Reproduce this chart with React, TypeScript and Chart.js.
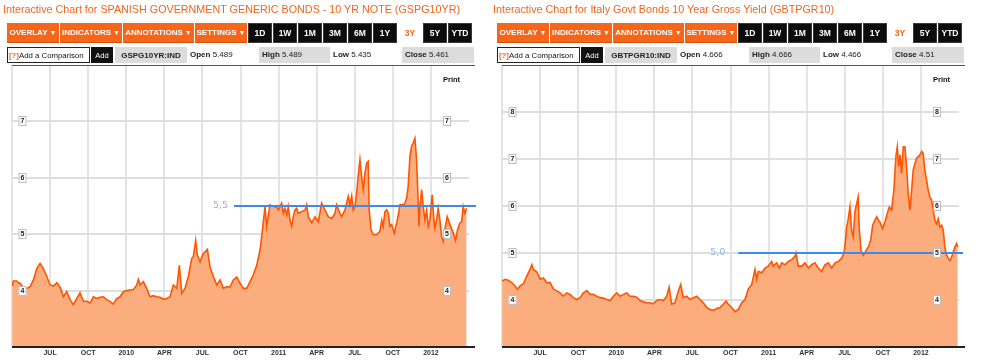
import React, { useEffect, useRef } from "react";
import { Chart, registerables } from "chart.js";
Chart.register(...registerables);

// x values: months since Jan 2009 (6 = Jul 2009, 12 = Jan 2010, 36 = Jan 2012)
const quarterMonths = [3, 6, 9, 12, 15, 18, 21, 24, 27, 30, 33, 36, 39];
const quarterLabels = ["", "JUL", "OCT", "2010", "APR", "JUL", "OCT", "2011", "APR", "JUL", "OCT", "2012", ""];

const spainMonths = [3.01,3.11,3.38,3.50,3.64,3.90,4.17,4.43,4.69,4.95,5.21,5.47,5.74,6.00,6.26,6.53,6.79,7.05,7.31,7.57,7.83,8.10,8.36,8.62,8.89,9.15,9.41,9.68,9.94,10.20,10.46,10.72,10.98,11.25,11.51,11.77,12.04,12.30,12.56,12.83,12.95,13.09,13.35,13.61,13.87,14.13,14.40,14.66,14.92,15.19,15.45,15.71,15.98,16.18,16.37,16.63,16.89,17.16,17.28,17.47,17.60,17.81,18.07,18.39,18.60,18.86,19.13,19.39,19.65,19.91,20.17,20.43,20.70,20.96,21.22,21.49,21.75,22.01,22.28,22.54,22.67,22.80,22.93,23.06,23.19,23.32,23.58,23.85,23.98,24.24,24.37,24.50,24.64,24.76,24.90,25.03,25.16,25.29,25.43,25.55,25.82,26.08,26.21,26.34,26.61,26.87,27.13,27.39,27.52,27.65,27.91,28.18,28.44,28.57,28.83,28.97,29.23,29.49,29.62,29.76,29.88,30.02,30.15,30.28,30.41,30.54,30.67,30.80,30.94,31.06,31.14,31.28,31.46,31.72,31.98,32.13,32.24,32.38,32.52,32.64,32.77,32.91,33.11,33.30,33.43,33.56,33.82,33.95,34.09,34.21,34.35,34.48,34.61,34.74,34.87,34.95,35.06,35.13,35.27,35.39,35.53,35.66,35.79,35.92,36.10,36.24,36.31,36.45,36.57,36.71,36.84,36.97,37.10,37.28,37.50,37.76,37.94,38.10,38.28,38.42,38.54,38.68,38.81];
const spainYields = [4.08,4.17,4.17,4.14,4.13,4.05,4.04,4.07,4.19,4.39,4.48,4.39,4.25,4.10,4.08,4.14,4.06,3.89,3.98,3.84,3.75,3.86,3.96,3.81,3.81,3.78,3.89,3.86,3.88,3.89,3.84,3.81,3.76,3.86,3.89,3.98,4.00,4.01,4.02,4.10,4.20,4.10,4.16,4.04,3.89,3.91,3.89,3.88,3.85,3.86,3.89,4.10,4.04,4.45,3.95,4.04,4.25,4.57,4.60,4.89,4.63,4.51,4.66,4.73,4.42,4.25,4.10,4.19,4.04,4.07,4.06,4.19,4.24,4.13,4.04,4.04,4.16,4.28,4.45,4.72,4.96,5.22,5.49,5.14,5.33,5.52,5.49,5.48,5.43,5.55,5.37,5.46,5.34,5.49,5.25,5.14,5.31,5.43,5.46,5.37,5.40,5.43,5.52,5.31,5.20,5.31,5.22,5.55,5.49,5.43,5.31,5.28,5.37,5.52,5.37,5.31,5.43,5.67,5.52,5.68,5.43,5.49,5.73,6.05,6.32,6.02,5.79,6.08,6.26,6.29,5.43,5.08,4.99,4.99,5.05,5.25,5.14,5.40,5.43,5.37,5.14,5.17,5.02,5.20,5.34,5.52,5.52,5.55,5.64,5.85,6.38,6.56,6.62,6.70,6.32,5.85,5.14,5.49,5.79,5.49,5.25,5.43,5.14,5.25,5.70,5.25,5.11,5.25,5.46,5.25,4.96,4.87,5.08,5.31,5.17,5.02,4.89,5.08,5.20,5.22,5.49,5.37,5.46];

const italyMonths = [3.01,3.24,3.50,3.77,4.03,4.21,4.43,4.69,4.95,5.21,5.35,5.47,5.74,6.00,6.26,6.53,6.79,7.05,7.31,7.57,7.83,8.10,8.36,8.62,8.89,9.15,9.41,9.68,9.94,10.20,10.46,10.72,10.98,11.25,11.51,11.77,12.04,12.30,12.56,12.83,13.09,13.35,13.61,13.87,14.13,14.40,14.66,14.92,15.19,15.45,15.71,15.98,16.16,16.37,16.63,16.89,17.08,17.28,17.55,17.81,18.07,18.34,18.60,18.86,19.13,19.39,19.65,19.91,20.17,20.43,20.65,20.83,21.09,21.35,21.61,21.88,22.14,22.40,22.67,22.93,23.06,23.19,23.46,23.72,23.98,24.24,24.37,24.64,24.84,25.03,25.29,25.55,25.82,26.08,26.16,26.34,26.61,26.87,27.13,27.39,27.65,27.91,28.18,28.44,28.70,28.97,29.23,29.49,29.76,29.94,30.02,30.15,30.28,30.41,30.54,30.67,30.80,30.94,31.06,31.14,31.28,31.46,31.67,31.86,32.04,32.20,32.38,32.52,32.64,32.77,32.98,33.17,33.35,33.51,33.69,33.87,34.03,34.14,34.25,34.35,34.48,34.61,34.74,34.87,35.00,35.13,35.27,35.39,35.53,35.66,35.79,35.92,36.06,36.18,36.31,36.45,36.57,36.71,36.84,36.97,37.10,37.24,37.36,37.50,37.64,37.76,37.90,38.03,38.16,38.28,38.42,38.54,38.68,38.81,38.90];
const italyYields = [4.40,4.44,4.42,4.37,4.30,4.23,4.30,4.35,4.51,4.65,4.75,4.65,4.60,4.44,4.47,4.37,4.37,4.23,4.20,4.15,4.08,4.15,4.12,4.05,4.01,4.05,4.15,4.20,4.12,4.12,4.08,4.05,4.04,4.01,3.99,4.08,4.15,4.08,4.12,4.15,4.08,4.08,4.06,3.99,3.96,3.94,3.94,3.92,3.99,4.01,3.99,4.08,4.27,3.91,3.94,4.19,4.33,4.05,4.08,4.01,4.05,4.08,4.01,3.94,3.84,3.80,3.78,3.82,3.84,3.91,3.98,3.91,3.84,3.75,3.80,3.94,4.01,4.23,4.33,4.65,4.44,4.61,4.58,4.68,4.72,4.82,4.72,4.79,4.68,4.79,4.75,4.82,4.86,4.93,5.00,4.72,4.72,4.79,4.68,4.75,4.79,4.68,4.61,4.75,4.79,4.68,4.79,4.82,4.89,5.00,5.16,5.55,5.73,5.98,5.48,5.34,5.87,6.05,6.19,5.55,5.05,4.95,5.05,5.13,5.27,5.59,5.70,5.77,5.70,5.66,5.52,5.66,5.84,5.98,5.91,6.34,7.05,7.26,6.84,7.09,6.69,7.26,7.26,6.84,6.27,5.91,6.34,6.76,6.91,7.01,7.05,7.09,7.16,7.12,6.76,6.55,6.34,6.19,6.12,5.91,5.70,5.62,5.73,5.55,5.59,5.48,5.09,4.95,4.88,4.84,4.91,5.02,5.13,5.20,5.13];

const spainYTicks = [4, 5, 6, 7];
const italyYTicks = [4, 5, 6, 7, 8];

const menuButtons = ["OVERLAY ▼", "INDICATORS ▼", "ANNOTATIONS ▼", "SETTINGS ▼"];
const rangeButtons = ["1D", "1W", "1M", "3M", "6M", "1Y", "3Y", "5Y", "YTD"];
const activeRange = "3Y";

const ORANGE = "#f5661a";
const FONT = '"Liberation Sans", Arial, sans-serif';

const overlayPlugin = {
  id: "overlay",
  afterDatasetsDraw(chart: any, _a: any, opts: any) {
    const { ctx, chartArea, scales } = chart;
    const xs = scales.x;
    const ys = scales.y;
    ctx.save();
    // reference line
    const ry = Math.round(ys.getPixelForValue(opts.refLevel));
    const rx0 = xs.getPixelForValue(opts.refStart);
    ctx.strokeStyle = "#3f8ae6";
    ctx.lineWidth = 2;
    ctx.beginPath();
    ctx.moveTo(rx0, ry);
    ctx.lineTo(chartArea.right + opts.refOverhang, ry);
    ctx.stroke();
    ctx.fillStyle = "#8fb2ea";
    ctx.font = '9.5px "DejaVu Sans", Verdana, sans-serif';
    ctx.textAlign = "right";
    ctx.textBaseline = "middle";
    ctx.fillText(opts.refLabel, rx0 - opts.refGap, ry);
    // top line and bottom axis line
    ctx.strokeStyle = "#555";
    ctx.lineWidth = 1;
    ctx.beginPath();
    ctx.moveTo(chartArea.left, chartArea.top + 0.5);
    ctx.lineTo(chartArea.right + 6, chartArea.top + 0.5);
    ctx.stroke();
    ctx.strokeStyle = "#222";
    ctx.lineWidth = 2;
    ctx.beginPath();
    ctx.moveTo(chartArea.left, chartArea.bottom);
    ctx.lineTo(chartArea.right + 6, chartArea.bottom);
    ctx.stroke();
    // boxed y labels
    ctx.font = "bold 7px " + FONT;
    ctx.textAlign = "center";
    ctx.textBaseline = "middle";
    for (const v of opts.yTicks) {
      const y = Math.round(ys.getPixelForValue(v));
      for (const cx of [chartArea.left + 10.5, chartArea.right - 22]) {
        ctx.fillStyle = "#fff";
        ctx.fillRect(cx - 4, y - 5, 8, 10);
        ctx.strokeStyle = "#bdbdbd";
        ctx.lineWidth = 1;
        ctx.strokeRect(cx - 3.5, y - 4.5, 7, 9);
        ctx.fillStyle = "#222";
        ctx.fillText(String(v), cx, y + 0.5);
      }
    }
    ctx.restore();
  },
};

type PanelProps = {
  left: number;
  width: number;
  title: string;
  ticker: string;
  open: string;
  high: string;
  low: string;
  close: string;
  months: number[];
  yields: number[];
  yMax: number;
  yTicks: number[];
  refLevel: number;
  refLabel: string;
  refStart: number;
  refGap: number;
  refOverhang: number;
};

function Panel(p: PanelProps) {
  const ref = useRef<HTMLCanvasElement | null>(null);
  useEffect(() => {
    if (!ref.current) return;
    const chart = new Chart(ref.current, {
      type: "line",
      data: {
        datasets: [
          {
            data: p.months.map((m, i) => ({ x: m, y: p.yields[i] })),
            borderColor: "#ff5500",
            borderWidth: 1.6,
            backgroundColor: "#fbad7e",
            fill: "start",
            pointRadius: 0,
            tension: 0,
          },
        ],
      },
      options: {
        animation: false,
        responsive: false,
        devicePixelRatio: 1,
        layout: { padding: { left: 12, right: 21, top: 65, bottom: 0 } },
        plugins: {
          legend: { display: false },
          tooltip: { enabled: false },
          overlay: {
            refLevel: p.refLevel,
            refLabel: p.refLabel,
            refStart: p.refStart,
            refGap: p.refGap,
            refOverhang: p.refOverhang,
            yTicks: p.yTicks,
          },
        } as any,
        scales: {
          x: {
            type: "linear",
            min: quarterMonths[0],
            max: quarterMonths[quarterMonths.length - 1],
            afterBuildTicks: (s: any) => {
              s.ticks = quarterMonths.map((v) => ({ value: v }));
            },
            afterFit: (s: any) => {
              s.height = 16;
            },
            border: { display: false },
            grid: {
              drawTicks: false,
              lineWidth: 2,
              color: (c: any) => (c.tick && c.tick.value === quarterMonths[quarterMonths.length - 1] ? "rgba(0,0,0,0)" : "#e4e4e4"),
            },
            ticks: {
              padding: 2,
              maxRotation: 0,
              autoSkip: false,
              color: "#333",
              font: { family: FONT, size: 7, weight: "bold" },
              callback: (v: any) => {
                const i = quarterMonths.indexOf(Number(v));
                return i >= 0 ? quarterLabels[i] : "";
              },
            },
          },
          y: {
            type: "linear",
            min: 3,
            max: p.yMax,
            afterFit: (s: any) => {
              s.width = 0;
            },
            border: { display: false },
            grid: {
              drawTicks: false,
              lineWidth: 2,
              color: (c: any) => (c.tick && (c.tick.value === 3 || c.tick.value === p.yMax) ? "rgba(0,0,0,0)" : "#dedede"),
            },
            ticks: { display: false, stepSize: 1 },
          },
        },
      },
      plugins: [overlayPlugin as any],
    });
    return () => chart.destroy();
  }, []);

  const menuWidths = [52, 62, 71, 52];
  const txt: React.CSSProperties = { position: "absolute", fontFamily: FONT, whiteSpace: "nowrap" };
  return (
    <div style={{ position: "absolute", left: p.left, top: 0, width: p.width, height: 363, overflow: "hidden" }}>
      <canvas ref={ref} width={490} height={363} style={{ position: "absolute", left: 0, top: 0, width: 490, height: 363 }} />
      <div style={{ ...txt, left: 3, top: 2, fontSize: 10.75, lineHeight: "14px", color: "#f0661f" }}>{p.title}</div>
      <div style={{ position: "absolute", left: 7, top: 23, height: 20, display: "flex", gap: 1 }}>
        {menuButtons.map((b, i) => (
          <div key={b} style={{ width: menuWidths[i], height: 20, background: ORANGE, color: "#fff", fontFamily: FONT, fontWeight: "bold", fontSize: 8, display: "flex", alignItems: "center", justifyContent: "center", whiteSpace: "nowrap", boxSizing: "border-box", borderBottom: "1px solid #d4500c" }}>
            {b.replace(" ▼", "")}
            <span style={{ fontSize: 7, marginLeft: 2 }}>▼</span>
          </div>
        ))}
        {rangeButtons.map((b) => (
          <div key={b} style={{ width: 24, height: 20, background: b === activeRange ? "#fff" : "#0c0c0c", color: b === activeRange ? ORANGE : "#fff", fontFamily: FONT, fontWeight: "bold", fontSize: 8.5, display: "flex", alignItems: "center", justifyContent: "center", boxSizing: "border-box", border: b === activeRange ? "none" : "1px solid #3a3a3a" }}>
            {b}
          </div>
        ))}
      </div>
      <div style={{ position: "absolute", left: 7, top: 47, width: 83, height: 16, border: "1px solid #222", boxSizing: "border-box", background: "#fff", fontFamily: FONT, fontSize: 7.8, display: "flex", alignItems: "center", paddingLeft: 1, whiteSpace: "nowrap", color: "#111" }}>
        <span style={{ color: ORANGE, fontWeight: "bold" }}>[?]</span>Add a Comparison
      </div>
      <div style={{ position: "absolute", left: 91, top: 47, width: 22, height: 16, background: "#111", color: "#fff", fontFamily: FONT, fontSize: 7.5, display: "flex", alignItems: "center", justifyContent: "center" }}>Add</div>
      <div style={{ position: "absolute", left: 115, top: 47, width: 72, height: 16, background: "#dcdcdc", color: "#222", fontFamily: FONT, fontWeight: "bold", fontSize: 8, display: "flex", alignItems: "center", justifyContent: "center", whiteSpace: "nowrap" }}>{p.ticker}</div>
      <div style={{ ...txt, left: 190, top: 47, height: 16, lineHeight: "16px", fontSize: 8, color: "#222" }}>
        <b>Open</b> {p.open}
      </div>
      <div style={{ position: "absolute", left: 259, top: 47, width: 71, height: 16, background: "#dcdcdc", color: "#222", fontFamily: FONT, fontSize: 8, lineHeight: "16px", paddingLeft: 3, boxSizing: "border-box", whiteSpace: "nowrap" }}>
        <b>High</b> {p.high}
      </div>
      <div style={{ ...txt, left: 333, top: 47, height: 16, lineHeight: "16px", fontSize: 8, color: "#222" }}>
        <b>Low</b> {p.low}
      </div>
      <div style={{ position: "absolute", left: 402, top: 47, width: 72, height: 16, background: "#dcdcdc", color: "#222", fontFamily: FONT, fontSize: 8, lineHeight: "16px", paddingLeft: 3, boxSizing: "border-box", whiteSpace: "nowrap" }}>
        <b>Close</b> {p.close}
      </div>
      <div style={{ ...txt, left: 443, top: 75, fontSize: 7.5, fontWeight: "bold", color: "#111" }}>Print</div>
    </div>
  );
}

export default function App() {
  useEffect(() => {
    document.body.style.margin = "0";
  }, []);
  return (
    <div style={{ position: "relative", width: 981, height: 363, background: "#fff", overflow: "hidden" }}>
      <Panel
        left={0}
        width={490}
        title="Interactive Chart for SPANISH GOVERNMENT GENERIC BONDS - 10 YR NOTE (GSPG10YR)"
        ticker="GSPG10YR:IND"
        open="5.489"
        high="5.489"
        low="5.435"
        close="5.461"
        months={spainMonths}
        yields={spainYields}
        yMax={8}
        yTicks={spainYTicks}
        refLevel={5.5}
        refLabel="5,5"
        refStart={20.49}
        refGap={6}
        refOverhang={7}
      />
      <Panel
        left={490}
        width={491}
        title="Interactive Chart for Italy Govt Bonds 10 Year Gross Yield (GBTPGR10)"
        ticker="GBTPGR10:IND"
        open="4.666"
        high="4.666"
        low="4.466"
        close="4.51"
        months={italyMonths}
        yields={italyYields}
        yMax={9}
        yTicks={italyYTicks}
        refLevel={5.0}
        refLabel="5,0"
        refStart={21.61}
        refGap={13}
        refOverhang={4}
      />
    </div>
  );
}
